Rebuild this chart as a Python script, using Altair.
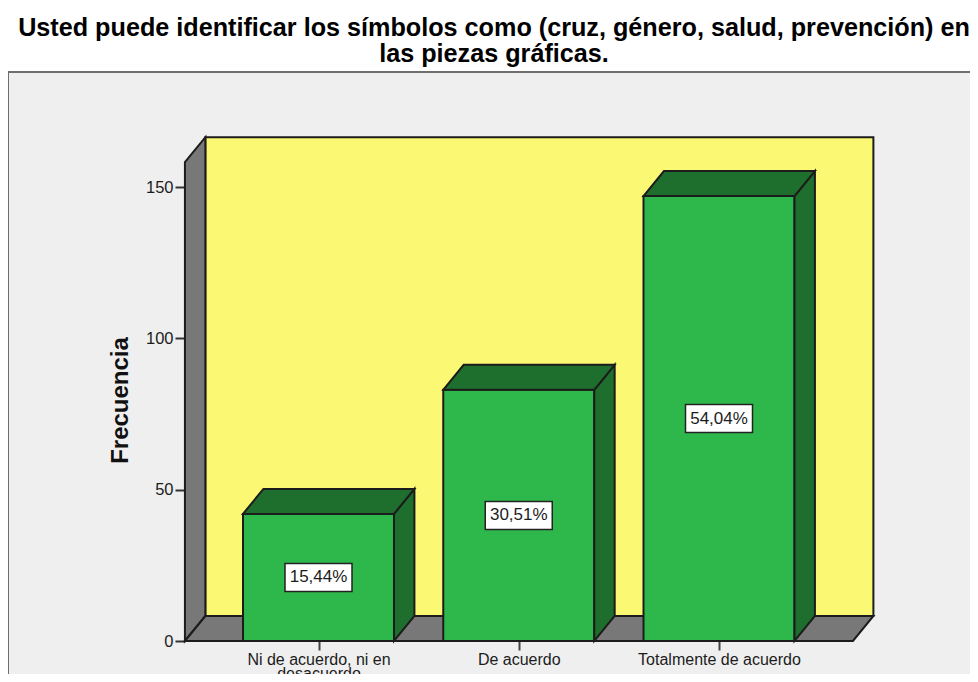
import json
import altair as alt
import pandas as pd

categories = ["Ni de acuerdo, ni en\ndesacuerdo", "De acuerdo", "Totalmente de acuerdo"]
frequencies = [42, 83, 147]
percent_labels = ["15,44%", "30,51%", "54,04%"]
y_ticks = [0, 50, 100, 150]
title_lines = [
    "Usted puede identificar los símbolos como (cruz, género, salud, prevención) en",
    "las piezas gráficas.",
]

FONT = "Liberation Sans"
INK = "#1c1c1c"
BG, WALL, YELLOW, GREEN, DARK = "#efefef", "#787878", "#fbf873", "#2eb84c", "#1e6e2e"
FRAME = "#6e6e6e"

# 3-D box geometry in data units
half = 0.377
dx, dy = 0.102, 8.26
x_left, x_right = -0.667, 2.669
y_top = 158.2

VIEW_W, VIEW_H = 962, 602

x_labels = "[" + ",".join(json.dumps(c.split("\n")) for c in categories) + "][datum.value]"
x_enc = alt.X(
    "x:Q",
    scale=alt.Scale(domain=[0, 2], range=[310.5, 711], nice=False, zero=False),
    axis=alt.Axis(
        values=[0, 1, 2], labelExpr=x_labels, title=None, grid=False, domain=False,
        offset=-(VIEW_H - 569), tickSize=9, tickWidth=2, tickColor="#444444", labelFont=FONT,
        labelFontSize=16, labelColor=INK, labelPadding=1, labelLineHeight=14,
        labelOverlap=False, labelBound=False, labelFlush=False,
    ),
)
y_enc = alt.Y(
    "y:Q",
    scale=alt.Scale(domain=[0, 150], range=[569, 115], nice=False, zero=False),
    axis=alt.Axis(
        values=y_ticks, title="Frecuencia", grid=False, domain=False, offset=-177,
        tickSize=10, tickWidth=2, tickColor="#333333", labelFont=FONT, labelFontSize=16.5,
        labelColor=INK, labelPadding=2, titleFont=FONT, titleFontSize=24,
        titleFontWeight="bold", titleColor="#111111", titlePadding=13, titleY=328,
    ),
)
y2_enc = alt.Y2("y2:Q")


def poly(rows, fill):
    df = pd.DataFrame(rows, columns=["x", "y", "y2"])
    return (
        alt.Chart(df)
        .mark_area(fill=fill, stroke=INK, strokeWidth=2, strokeJoin="miter", opacity=1)
        .encode(x=x_enc, y=y_enc, y2=y2_enc)
    )


layers = [
    alt.Chart(pd.DataFrame({"a": [0]}))
    .mark_rule(color=FRAME, strokeWidth=2)
    .encode(x=alt.value(0), x2=alt.value(VIEW_W), y=alt.value(0)),
    alt.Chart(pd.DataFrame({"a": [0]}))
    .mark_rule(color=FRAME, strokeWidth=2)
    .encode(x=alt.value(0), y=alt.value(0), y2=alt.value(VIEW_H)),
    poly([(x_left + dx, y_top + dy, dy), (x_right + dx, y_top + dy, dy)], YELLOW),
    poly([(x_left, y_top, 0), (x_left + dx, y_top + dy, dy)], WALL),
    poly(
        [
            (x_left, 0, 0),
            (x_left + dx, dy, 0),
            (x_right, dy, 0),
            (x_right + dx, dy, dy),
        ],
        WALL,
    ),
]

for i, f in enumerate(frequencies):
    l, r = i - half, i + half
    layers += [
        poly([(l, f, 0), (r, f, 0)], GREEN),
        poly([(r, f, 0), (r + dx, f + dy, dy)], DARK),
        poly([(l, f, f), (l + dx, f + dy, f), (r, f + dy, f), (r + dx, f + dy, f + dy)], DARK),
    ]

labels = pd.DataFrame(
    {
        "x": list(range(len(categories))),
        "y": [f / 2 for f in frequencies],
        "t": percent_labels,
    }
)
layers += [
    alt.Chart(labels)
    .mark_rect(width=67, height=28, fill="white", stroke="#222222", strokeWidth=1.5)
    .encode(x=x_enc, y=y_enc),
    alt.Chart(labels)
    .mark_text(font=FONT, fontSize=17, color=INK, align="center", baseline="middle")
    .encode(x=x_enc, y=y_enc, text="t:N"),
]

chart = (
    alt.layer(*layers)
    .properties(
        width=VIEW_W,
        height=VIEW_H,
        padding={"left": 0, "top": 64, "right": 0, "bottom": 0},
        autosize=alt.AutoSizeParams(type="none"),
        title=alt.TitleParams(
            text=title_lines, font=FONT, fontSize=25.2, fontWeight="bold", color="#000000",
            anchor="middle", lineHeight=26, offset=4, dx=5,
        ),
    )
    .configure_view(fill=BG, strokeWidth=0)
)

chart.save("out.html", embed_options={"renderer": "svg", "actions": False})
